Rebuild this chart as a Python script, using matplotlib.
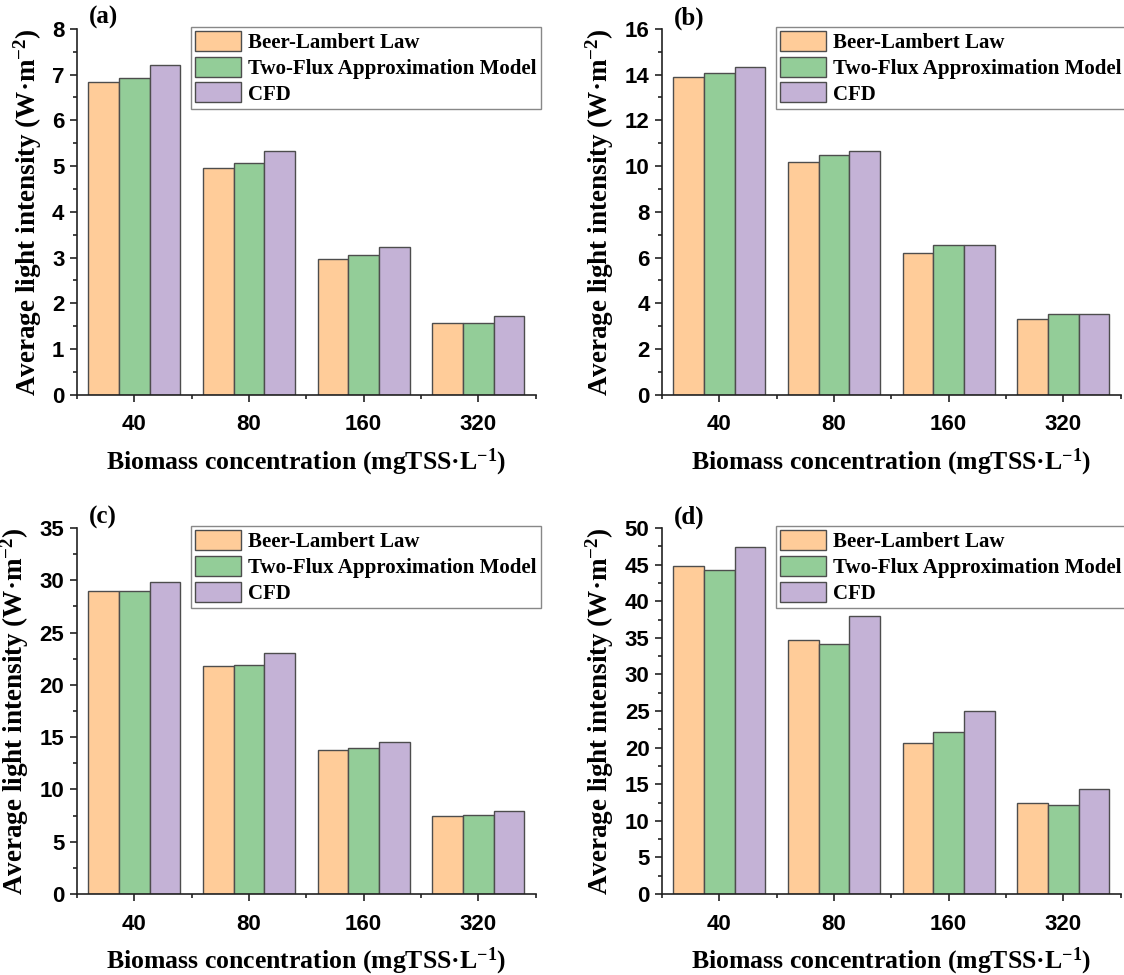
import numpy as np
import matplotlib
matplotlib.use('Agg')
from matplotlib import pyplot as plt
from matplotlib.ticker import MultipleLocator, FixedLocator

plt.rcParams['font.family'] = 'Liberation Serif'
plt.rcParams['mathtext.fontset'] = 'custom'
plt.rcParams['mathtext.rm'] = 'Liberation Serif:bold'
plt.rcParams['mathtext.default'] = 'rm'

# data
concentrations = ['40', '80', '160', '320']
series_names = ['Beer-Lambert Law', 'Two-Flux Approximation Model', 'CFD']

beer_a = [6.84, 4.95, 2.98, 1.58]
twoflux_a = [6.93, 5.07, 3.06, 1.58]
cfd_a = [7.20, 5.34, 3.24, 1.72]

beer_b = [13.90, 10.17, 6.21, 3.31]
twoflux_b = [14.05, 10.50, 6.56, 3.54]
cfd_b = [14.33, 10.67, 6.57, 3.52]

beer_c = [28.95, 21.80, 13.75, 7.45]
twoflux_c = [28.95, 21.93, 13.96, 7.58]
cfd_c = [29.85, 23.02, 14.57, 7.95]

beer_d = [44.85, 34.65, 20.70, 12.43]
twoflux_d = [44.30, 34.10, 22.10, 12.18]
cfd_d = [47.35, 37.97, 25.00, 14.40]

panel_labels = ['(a)', '(b)', '(c)', '(d)']
y_max = [8, 16, 35, 50]
y_step = [1, 2, 5, 5]

colors = ['#FFCC99', '#93CD98', '#C4B2D6']
edge = '#4d4d4d'

panels = [
    (beer_a, twoflux_a, cfd_a),
    (beer_b, twoflux_b, cfd_b),
    (beer_c, twoflux_c, cfd_c),
    (beer_d, twoflux_d, cfd_d),
]

# axes rectangles (left, bottom, width, height) in figure fraction
positions = [
    (0.0685, 0.595, 0.408, 0.3754),
    (0.589, 0.595, 0.408, 0.3754),
    (0.0685, 0.083, 0.408, 0.3754),
    (0.589, 0.083, 0.408, 0.3754),
]

fig = plt.figure(figsize=(11.24, 9.75), dpi=100)

x = np.arange(len(concentrations))
width = 0.267

for i, (vals, pos) in enumerate(zip(panels, positions)):
    ax = fig.add_axes(pos)
    for j, (v, c, name) in enumerate(zip(vals, colors, series_names)):
        ax.bar(x + (j - 1) * width, v, width, color=c, edgecolor=edge,
               linewidth=1.0, label=name, zorder=2)

    ax.set_xlim(-0.5, 3.5)
    ax.set_ylim(0, y_max[i])
    ax.yaxis.set_major_locator(MultipleLocator(y_step[i]))
    ax.yaxis.set_minor_locator(MultipleLocator(y_step[i] / 2))
    ax.set_xticks(x)
    ax.set_xticklabels(concentrations)
    ax.xaxis.set_minor_locator(FixedLocator(np.arange(-0.5, 3.6, 1.0)))

    ax.spines['top'].set_visible(False)
    ax.spines['right'].set_visible(False)
    ax.spines['left'].set_linewidth(1.2)
    ax.spines['bottom'].set_linewidth(1.2)
    ax.spines['left'].set_color('#222222')
    ax.spines['bottom'].set_color('#222222')

    ax.tick_params(which='major', direction='out', length=5, width=1.2, color='#222222')
    ax.tick_params(which='minor', direction='out', length=3, width=1.2, color='#222222')
    ax.tick_params(axis='x', pad=9)
    ax.tick_params(axis='y', pad=4)
    for lbl in ax.get_xticklabels() + ax.get_yticklabels():
        lbl.set_fontfamily('Liberation Sans')
        lbl.set_fontweight('bold')
        lbl.set_fontsize(16)

    ax.set_ylabel('Average light intensity (W\u00b7m$^{-2}$)', fontsize=19.5,
                  fontweight='bold', labelpad=6)
    ax.set_xlabel('Biomass concentration (mgTSS\u00b7L$^{-1}$)', fontsize=18.5,
                  fontweight='bold', labelpad=8)

    ax.text(0.025, 1.03, panel_labels[i], transform=ax.transAxes, fontsize=18,
            fontweight='bold', va='center', ha='left')

    leg = ax.legend(loc='upper right', bbox_to_anchor=(1.012, 1.006),
                    borderaxespad=0, fancybox=False, framealpha=1,
                    edgecolor='#888888', handlelength=2.2, handleheight=1.1,
                    labelspacing=0.18, borderpad=0.2, handletextpad=0.35,
                    prop={'family': 'Liberation Serif', 'weight': 'bold', 'size': 15})
    leg.get_frame().set_linewidth(1.0)

plt.savefig('out.png', dpi=100)
